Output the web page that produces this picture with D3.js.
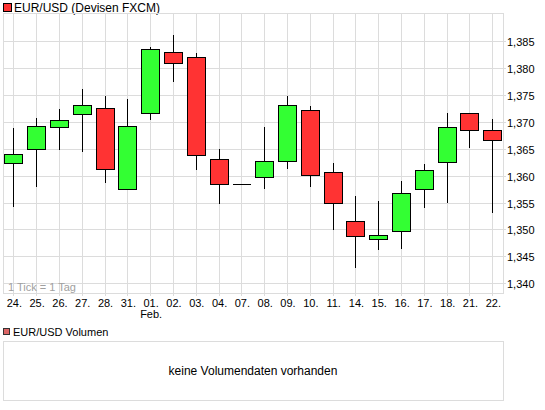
<!DOCTYPE html>
<html>
<head>
<meta charset="utf-8">
<script src="https://cdn.jsdelivr.net/npm/d3@7"></script>
<style>
  body { margin: 0; background: #fff; }
  svg text { font-family: "Liberation Sans", Arial, sans-serif; }
</style>
</head>
<body>
<div id="chart"></div>
<script>
// Tageskerzen EUR/USD, Jan./Feb.
var days   = ["24.", "25.", "26.", "27.", "28.", "31.", "01.", "02.", "03.", "04.", "07.",
              "08.", "09.", "10.", "11.", "14.", "15.", "16.", "17.", "18.", "21.", "22."];
var opens  = [1.3623, 1.3649, 1.3690, 1.3714, 1.3725, 1.3576, 1.3716, 1.3829, 1.3820, 1.3630, 1.3584,
              1.3597, 1.3627, 1.3722, 1.3606, 1.3516, 1.3482, 1.3498, 1.3576, 1.3625, 1.3716, 1.3684];
var highs  = [1.3689, 1.3707, 1.3724, 1.3761, 1.3748, 1.3742, 1.3839, 1.3861, 1.3828, 1.3649, 1.3584,
              1.3690, 1.3748, 1.3729, 1.3624, 1.3562, 1.3553, 1.3590, 1.3622, 1.3716, 1.3716, 1.3705];
var lows   = [1.3542, 1.3578, 1.3648, 1.3643, 1.3587, 1.3574, 1.3704, 1.3773, 1.3610, 1.3547, 1.3584,
              1.3576, 1.3613, 1.3579, 1.3499, 1.3429, 1.3462, 1.3464, 1.3540, 1.3550, 1.3651, 1.3531];
var closes = [1.3641, 1.3693, 1.3703, 1.3731, 1.3612, 1.3693, 1.3835, 1.3809, 1.3638, 1.3584, 1.3584,
              1.3628, 1.3732, 1.3602, 1.3550, 1.3487, 1.3489, 1.3567, 1.3610, 1.3690, 1.3684, 1.3666];
var priceTicks = [1.340, 1.345, 1.350, 1.355, 1.360, 1.365, 1.370, 1.375, 1.380, 1.385];
var monthDays = ["01."];
var monthNames = ["Feb."];

var W = 545, H = 410;
var plot = { left: 3, right: 503, top: 13, bottom: 293 };
var bodyWidth = 18;
var up = "#33ff33", down = "#ff3333", grid = "#dcdcdc";

var svg = d3.select("#chart").append("svg")
    .attr("width", W)
    .attr("height", H);

var x = d3.scalePoint()
    .domain(days)
    .range([13.3, 492.3]);

var y = d3.scaleLinear()
    .domain([1.3382, 1.3902])
    .range([plot.bottom, plot.top]);

// snap to pixel centre for crisp 1px lines
function px(v) { return Math.round(v) + 0.5; }

// title legend
svg.append("rect")
    .attr("x", 3.5).attr("y", 3.5)
    .attr("width", 8).attr("height", 8)
    .attr("fill", down).attr("stroke", "#000");
svg.append("text")
    .attr("x", 14).attr("y", 12)
    .attr("font-size", 12)
    .text("EUR/USD (Devisen FXCM)");

// grid
var g = svg.append("g").attr("shape-rendering", "crispEdges");
g.selectAll(".hgrid").data(priceTicks).enter().append("line")
    .attr("x1", plot.left).attr("x2", plot.right + 3)
    .attr("y1", function(d){ return px(y(d)); })
    .attr("y2", function(d){ return px(y(d)); })
    .attr("stroke", grid);
g.selectAll(".vgrid").data(days).enter().append("line")
    .attr("x1", function(d){ return px(x(d)); })
    .attr("x2", function(d){ return px(x(d)); })
    .attr("y1", plot.top).attr("y2", plot.bottom + 3)
    .attr("stroke", grid);
g.append("rect")
    .attr("x", plot.left + 0.5).attr("y", plot.top + 0.5)
    .attr("width", plot.right - plot.left).attr("height", plot.bottom - plot.top)
    .attr("fill", "none").attr("stroke", grid);

// price labels
svg.selectAll(".ylab").data(priceTicks).enter().append("text")
    .attr("x", 507)
    .attr("y", function(d){ return px(y(d)) + 4; })
    .attr("font-size", 11)
    .text(function(d){ return d3.format(".3f")(d).replace(".", ","); });

// day labels, month name under the first day of the month
svg.selectAll(".xlab").data(days).enter().append("text")
    .attr("x", function(d){ return x(d) + 1; })
    .attr("y", 307)
    .attr("text-anchor", "middle")
    .attr("font-size", 11)
    .text(function(d){ return d; });
svg.selectAll(".mlab").data(monthDays).enter().append("text")
    .attr("x", function(d){ return x(d) + 1; })
    .attr("y", 318)
    .attr("text-anchor", "middle")
    .attr("font-size", 11)
    .text(function(d, i){ return monthNames[i]; });

svg.append("text")
    .attr("x", 8).attr("y", 291)
    .attr("font-size", 11)
    .attr("fill", "#a0a0a0")
    .text("1 Tick = 1 Tag");

// candles
var candles = svg.append("g").attr("shape-rendering", "crispEdges");
days.forEach(function(d, i){
    var cx = px(x(d));
    var o = opens[i], c = closes[i];
    candles.append("line")
        .attr("x1", cx).attr("x2", cx)
        .attr("y1", Math.round(y(highs[i])))
        .attr("y2", Math.round(y(lows[i])))
        .attr("stroke", "#000");
    var top = Math.round(y(Math.max(o, c))), bot = Math.round(y(Math.min(o, c)));
    if (bot - top < 1) {
        // doji: flat line
        candles.append("line")
            .attr("x1", cx - bodyWidth / 2).attr("x2", cx + bodyWidth / 2)
            .attr("y1", top + 0.5).attr("y2", top + 0.5)
            .attr("stroke", "#000");
    } else {
        candles.append("rect")
            .attr("x", cx - bodyWidth / 2)
            .attr("y", top + 0.5)
            .attr("width", bodyWidth)
            .attr("height", bot - top)
            .attr("fill", c >= o ? up : down)
            .attr("stroke", "#000");
    }
});

// volume panel
svg.append("rect")
    .attr("x", 3.5).attr("y", 328.5)
    .attr("width", 6).attr("height", 6)
    .attr("fill", "#dd6666").attr("stroke", "#333");
svg.append("text")
    .attr("x", 13).attr("y", 336)
    .attr("font-size", 11)
    .text("EUR/USD Volumen");
svg.append("rect")
    .attr("x", plot.left + 0.5).attr("y", 341.5)
    .attr("width", plot.right - plot.left).attr("height", 59)
    .attr("fill", "none").attr("stroke", grid)
    .attr("shape-rendering", "crispEdges");
svg.append("text")
    .attr("x", (plot.left + plot.right) / 2).attr("y", 375)
    .attr("text-anchor", "middle")
    .attr("font-size", 12)
    .text("keine Volumendaten vorhanden");
</script>
</body>
</html>
